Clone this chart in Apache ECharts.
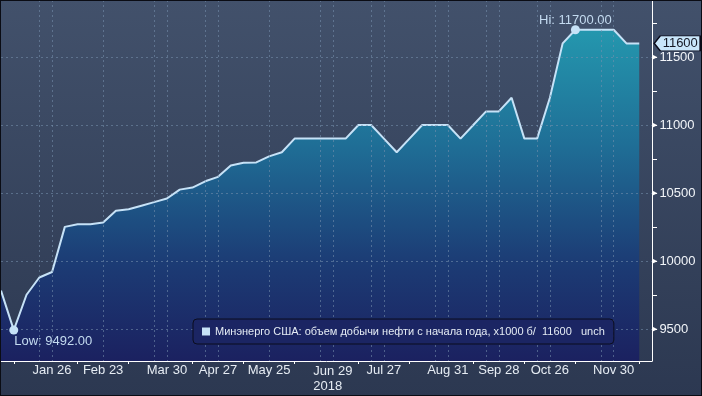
<!DOCTYPE html>
<html>
<head>
<meta charset="utf-8">
<script src="https://cdn.jsdelivr.net/npm/echarts@6/dist/echarts.min.js"></script>
<style>
html,body{margin:0;padding:0;}
#wrap{position:relative;width:702px;height:396px;background:linear-gradient(#42516b,#2c3851);}
#chart{width:702px;height:396px;}
#frame{position:absolute;left:0;top:0;width:700px;height:394px;border:1px solid #0a0c14;pointer-events:none;}
</style>
</head>
<body>
<div id="wrap"><div id="chart"></div><div id="frame"></div></div>
<script>
const dates = ['2017-12-29','2018-01-05','2018-01-12','2018-01-19','2018-01-26','2018-02-02','2018-02-09','2018-02-16','2018-02-23','2018-03-02','2018-03-09','2018-03-16','2018-03-23','2018-03-30','2018-04-06','2018-04-13','2018-04-20','2018-04-27','2018-05-04','2018-05-11','2018-05-18','2018-05-25','2018-06-01','2018-06-08','2018-06-15','2018-06-22','2018-06-29','2018-07-06','2018-07-13','2018-07-20','2018-07-27','2018-08-03','2018-08-10','2018-08-17','2018-08-24','2018-08-31','2018-09-07','2018-09-14','2018-09-21','2018-09-28','2018-10-05','2018-10-12','2018-10-19','2018-10-26','2018-11-02','2018-11-09','2018-11-16','2018-11-23','2018-11-30','2018-12-07','2018-12-14','2018-12-21'];
const values = [9782,9492,9752,9879,9919,10251,10271,10271,10283,10369,10381,10407,10433,10460,10525,10540,10586,10619,10703,10723,10725,10769,10800,10900,10900,10900,10900,10900,11000,11000,10900,10800,10900,11000,11000,11000,10900,11000,11100,11100,11200,10900,10900,11200,11600,11700,11700,11700,11700,11600,11600,null];
const labelDates = ['2018-01-26','2018-02-23','2018-03-30','2018-04-27','2018-05-25','2018-06-29','2018-07-27','2018-08-31','2018-09-28','2018-10-26','2018-11-30'];
const yearLabelDate = '2018-06-29';
const yearLabel = '2018';
const gridDates = ['2018-01-19','2018-01-26','2018-02-23','2018-03-23','2018-03-30','2018-04-20','2018-04-27','2018-05-25','2018-06-22','2018-06-29','2018-07-20','2018-07-27','2018-08-24','2018-08-31','2018-09-21','2018-09-28','2018-10-19','2018-10-26','2018-11-23','2018-11-30'];
const tickDates = ['2018-01-05','2018-02-09','2018-03-09','2018-04-13','2018-05-11','2018-06-08','2018-07-13','2018-08-10','2018-09-14','2018-10-12','2018-11-09','2018-12-14'];
const yLabelValues = [9500,10000,10500,11000,11500];
const yTickValues = [9500,9750,10000,10250,10500,10750,11000,11250,11500,11750];
const seriesName = 'Минэнерго США: объем добычи нефти с начала года, x1000 б/';
const changeText = 'unch';

const months = ['Jan','Feb','Mar','Apr','May','Jun','Jul','Aug','Sep','Oct','Nov','Dec'];
function fmtDate(s){ const p = s.split('-'); return months[+p[1]-1] + ' ' + (+p[2]); }

const valid = values.filter(v => v != null);
const maxV = Math.max(...valid), minV = Math.min(...valid);
const maxI = values.indexOf(maxV), minI = values.indexOf(minV);
const lastI = valid.length - 1, lastV = valid[lastI];

const FONT = "'Liberation Sans', Arial, sans-serif";
const chart = echarts.init(document.getElementById('chart'), null, {renderer:'canvas'});
chart.setOption({
  backgroundColor: 'transparent',
  animation: false,
  grid: {left: 1, right: 50, top: 0, bottom: 35, outerBoundsMode: 'none', containLabel: false},
  legend: {
    left: 193, top: 319,
    padding: [7, 9, 7, 9],
    backgroundColor: '#1b2563',
    borderColor: '#0b0d1e', borderWidth: 1, borderRadius: 4,
    icon: 'rect', itemWidth: 8, itemHeight: 8,
    itemStyle: {color: '#c6e2f7'},
    textStyle: {color: '#e4ebf4', fontSize: 11, fontFamily: FONT},
    formatter: n => n + '  ' + lastV + '   ' + changeText,
    data: [seriesName]
  },
  xAxis: {
    type: 'category', data: dates, boundaryGap: false, z: 3,
    axisLine: {lineStyle: {color: '#ffffff', width: 1}},
    axisTick: {show: true, length: 3, interval: (i, v) => tickDates.includes(v), lineStyle: {color: '#ffffff'}},
    axisLabel: {
      interval: (i, v) => labelDates.includes(v),
      margin: 3, color: '#e6ecf3', fontSize: 13, fontFamily: FONT,
      formatter: v => v === yearLabelDate ? '{a|' + fmtDate(v) + '}\n{b|' + yearLabel + '}' : fmtDate(v),
      rich: {a: {fontSize: 13, color: '#e6ecf3', fontFamily: FONT, lineHeight: 15},
             b: {fontSize: 13, color: '#e6ecf3', fontFamily: FONT, lineHeight: 15, align: 'left'}}
    },
    splitLine: {show: true, interval: (i, v) => gridDates.includes(v), lineStyle: {color: 'rgba(120,145,175,0.55)', type: [2, 3], width: 1}}
  },
  yAxis: [{
    type: 'value', position: 'right', min: 9265, max: 11919, z: 3,
    axisLine: {show: true, lineStyle: {color: '#ffffff', width: 1}},
    axisTick: {show: true, length: 5, customValues: yTickValues, lineStyle: {color: '#ffffff'}},
    axisLabel: {
      customValues: yLabelValues, margin: 0, color: '#f2f5f9', fontSize: 13, fontFamily: FONT,
      formatter: v => '{t|▶}{v|' + v + '}',
      rich: {t: {fontSize: 7, color: '#ffffff', fontFamily: "'DejaVu Sans'"}, v: {fontSize: 13, color: '#f2f5f9', fontFamily: FONT, padding: [0, 0, 0, 2]}}
    },
    splitLine: {show: false}
  }, {
    type: 'value', position: 'right', min: 9265, max: 11919, z: 3,
    axisLine: {show: false}, axisLabel: {show: false},
    axisTick: {show: false, customValues: yLabelValues},
    splitLine: {show: true, lineStyle: {color: 'rgba(120,145,175,0.55)', type: [2, 3], width: 1}}
  }],
  series: [{
    name: seriesName, type: 'line', data: values, symbol: 'none', z: 2,
    color: '#c6e2f7',
    lineStyle: {color: '#c6e2f7', width: 2},
    areaStyle: {color: new echarts.graphic.LinearGradient(0, 0, 0, 1, [
      {offset: 0, color: '#2497ae'},
      {offset: 0.35, color: '#1f6e96'},
      {offset: 0.7, color: '#1c3c75'},
      {offset: 1, color: '#1b2160'}
    ]), opacity: 1},
    markPoint: {
      animation: false,
      data: [
        {coord: [maxI, maxV], symbol: 'circle', symbolSize: 9, itemStyle: {color: '#c6e2f7'},
         label: {show: true, position: 'top', distance: -2, color: '#c4dbf0', fontSize: 13, fontFamily: FONT, formatter: 'Hi: ' + maxV.toFixed(2)}},
        {coord: [minI, minV], symbol: 'circle', symbolSize: 9, itemStyle: {color: '#c6e2f7'},
         label: {show: true, position: [5, 9], align: 'left', verticalAlign: 'top', color: '#c4dbf0', fontSize: 13, fontFamily: FONT, formatter: 'Low: ' + minV.toFixed(2)}},
        {coord: [lastI, lastV], symbol: 'path://M0,7.5 L6,0 L46,0 L46,15 L6,15 Z', symbolSize: [46, 15], symbolKeepAspect: false,
         symbolOffset: [38, 0], itemStyle: {color: '#c9e6fa', borderColor: '#0a0a1a', borderWidth: 1},
         label: {show: true, position: 'inside', offset: [3, 0], color: '#141824', fontSize: 13, fontFamily: FONT, formatter: String(lastV)}}
      ]
    }
  }]
});
</script>
</body>
</html>
